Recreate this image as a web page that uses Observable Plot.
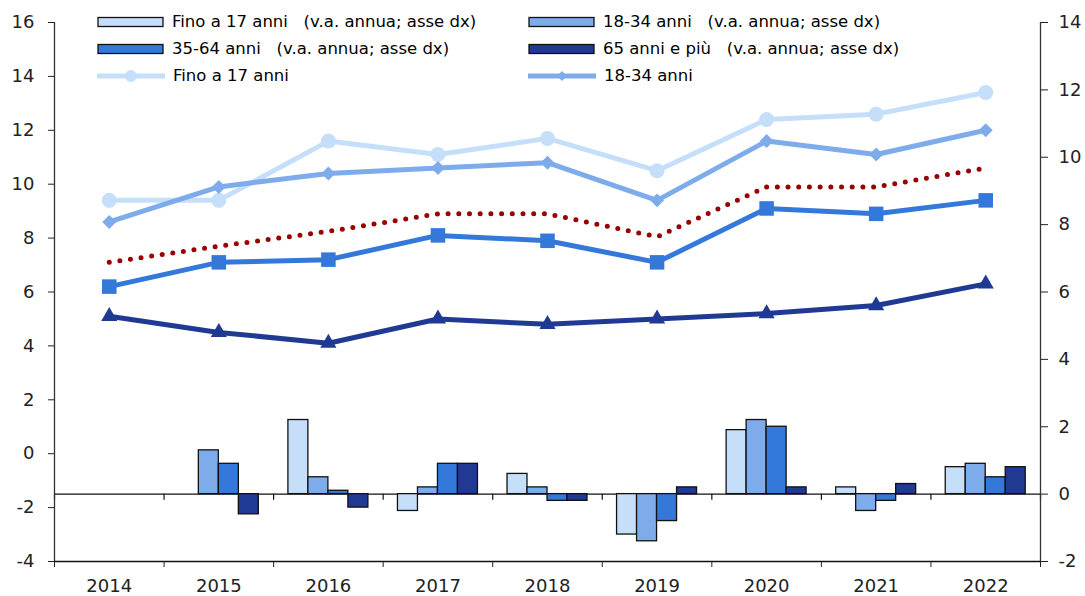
<!DOCTYPE html>
<html><head><meta charset="utf-8">
<script src="https://cdn.jsdelivr.net/npm/d3@7"></script>
<script src="https://cdn.jsdelivr.net/npm/@observablehq/plot@0.6"></script>
<style>
body{margin:0;background:#fff;font-family:"DejaVu Sans",sans-serif;}
#wrap{position:relative;width:1085px;height:596px;}
#legend{position:absolute;left:0;top:0;width:1085px;height:100px;pointer-events:none;font-size:16.5px;color:#000;}
.item{position:absolute;display:flex;align-items:center;white-space:pre;height:22px;line-height:22px;}
.item svg{margin-right:8px;display:block;}
</style></head><body>
<div id="wrap"><div id="chart"></div><div id="legend"></div></div>
<script>
// ---- data ----
const years = [2014, 2015, 2016, 2017, 2018, 2019, 2020, 2021, 2022];
const seriesNames = ["Fino a 17 anni", "18-34 anni", "35-64 anni", "65 anni e più"];
const colors = ["#c5dffb", "#7eaceb", "#3479d9", "#203a93"];
const totalColor = "#9b0000";
// levels (left axis)
const lvlFino17 = [9.4, 9.4, 11.6, 11.1, 11.7, 10.5, 12.4, 12.6, 13.4];
const lvl18_34 = [8.6, 9.9, 10.4, 10.6, 10.8, 9.4, 11.6, 11.1, 12.0];
const lvl35_64 = [6.2, 7.1, 7.2, 8.1, 7.9, 7.1, 9.1, 8.9, 9.4];
const lvl65 = [5.1, 4.5, 4.1, 5.0, 4.8, 5.0, 5.2, 5.5, 6.3];
const lvlTotale = [7.1, 7.7, 8.25, 8.9, 8.9, 8.05, 9.9, 9.9, 10.6];
// annual changes (right axis)
const vaFino17 = [null, 0, 2.2, -0.5, 0.6, -1.2, 1.9, 0.2, 0.8];
const va18_34 = [null, 1.3, 0.5, 0.2, 0.2, -1.4, 2.2, -0.5, 0.9];
const va35_64 = [null, 0.9, 0.1, 0.9, -0.2, -0.8, 2.0, -0.2, 0.5];
const va65 = [null, -0.6, -0.4, 0.9, -0.2, 0.2, 0.2, 0.3, 0.8];
const leftTicks = [-4, -2, 0, 2, 4, 6, 8, 10, 12, 14, 16];
const rightTicks = [-2, 0, 2, 4, 6, 8, 10, 12, 14];
const legendBarLabel = "   (v.a. annua; asse dx)";

// ---- scales mapping right axis onto left axis ----
const L0 = -4, L1 = 16, R0 = -2, R1 = 14;
const toLeft = r => L0 + (r - R0) * (L1 - L0) / (R1 - R0);
const toRight = l => R0 + (l - L0) * (R1 - R0) / (L1 - L0);

const groupW = 0.73, barW = groupW / 4;
const boundaries = years.map(y => y - 0.5).concat([years[years.length - 1] + 0.5]);

const vaSeries = [vaFino17, va18_34, va35_64, va65];
const lvlSeries = [lvlFino17, lvl18_34, lvl35_64, lvl65];
const symbols = ["circle", "diamond2", "square", "triangle"];
const radii = [7.5, 6.3, 8.2, 6];

const marks = [];
// axis frame lines
marks.push(Plot.ruleY([toLeft(0)], {stroke: "#111", strokeWidth: 1.3}));
marks.push(Plot.ruleX(boundaries, {x: d => d, y1: toLeft(0), y2: toLeft(0), insetBottom: -6, stroke: "#111", strokeWidth: 1.2}));

vaSeries.forEach((vals, i) => {
  const data = years.map((y, k) => ({year: y, v: vals[k]})).filter(d => d.v !== null);
  marks.push(Plot.rectY(data, {
    x1: d => d.year - groupW / 2 + i * barW,
    x2: d => d.year - groupW / 2 + (i + 1) * barW,
    y1: toLeft(0),
    y2: d => toLeft(d.v),
    fill: colors[i], stroke: "#111", strokeWidth: 1.3
  }));
});

lvlSeries.forEach((vals, i) => {
  const data = years.map((y, k) => ({year: y, v: vals[k]}));
  marks.push(Plot.line(data, {x: "year", y: "v", stroke: colors[i], strokeWidth: 5, strokeLinejoin: "round"}));
  marks.push(Plot.dot(data, {x: "year", y: "v", fill: colors[i], symbol: symbols[i], r: radii[i]}));
});
{
  const data = years.map((y, k) => ({year: y, v: lvlTotale[k]}));
  marks.push(Plot.line(data, {x: "year", y: "v", stroke: totalColor, strokeWidth: 5, strokeDasharray: "0,10.7", strokeLinecap: "round"}));
}

marks.push(Plot.ruleX([boundaries[0], boundaries[boundaries.length - 1]], {stroke: "#333", strokeWidth: 1.3}));
marks.push(Plot.ruleY([L0], {stroke: "#111", strokeWidth: 1.3}));
marks.push(Plot.axisY({anchor: "left", ticks: leftTicks, tickSize: 6, tickPadding: 14, label: null, tickFormat: d => String(d)}));
marks.push(Plot.axisY({anchor: "right", ticks: rightTicks.map(toLeft), tickSize: 7, tickPadding: 11, label: null, tickFormat: d => String(Math.round(toRight(d)))}));
marks.push(Plot.axisX({anchor: "bottom", ticks: boundaries, tickSize: 6, tickFormat: () => "", label: null}));
marks.push(Plot.axisX({anchor: "bottom", ticks: years, tickSize: 0, tickPadding: 18, tickFormat: d => String(d), label: null}));

const chart = Plot.plot({
  width: 1085, height: 596,
  marginLeft: 54, marginRight: 45, marginTop: 22, marginBottom: 35,
  x: {type: "linear", domain: [boundaries[0], boundaries[boundaries.length - 1]]},
  y: {domain: [L0, L1]},
  style: {fontFamily: "DejaVu Sans, sans-serif", fontSize: "18px", color: "#222", background: "white", overflow: "visible"},
  marks
});
document.getElementById("chart").appendChild(chart);

// ---- legend ----
const legend = document.getElementById("legend");
function barSwatch(c) {
  return `<svg width="67" height="12"><rect x="1" y="1.5" width="65" height="9" fill="${c}" stroke="#111" stroke-width="1.3"/></svg>`;
}
function lineSwatch(c, sym) {
  let m = sym === "circle" ? `<circle cx="34" cy="8" r="6" fill="${c}"/>`
        : `<path d="M34,3 L39,8 L34,13 L29,8Z" fill="${c}"/>`;
  return `<svg width="68" height="16"><line x1="0" y1="8" x2="68" y2="8" stroke="${c}" stroke-width="5" stroke-linecap="round"/>${m}</svg>`;
}
const cols = [97, 528];
const rowsY = [22, 49, 76];
const items = [
  {col: 0, row: 0, sw: barSwatch(colors[0]), text: seriesNames[0] + legendBarLabel},
  {col: 1, row: 0, sw: barSwatch(colors[1]), text: seriesNames[1] + legendBarLabel},
  {col: 0, row: 1, sw: barSwatch(colors[2]), text: seriesNames[2] + legendBarLabel},
  {col: 1, row: 1, sw: barSwatch(colors[3]), text: seriesNames[3] + legendBarLabel},
  {col: 0, row: 2, sw: lineSwatch(colors[0], "circle"), text: seriesNames[0]},
  {col: 1, row: 2, sw: lineSwatch(colors[1], "diamond"), text: seriesNames[1]}
];
items.forEach(it => {
  const d = document.createElement("div");
  d.className = "item";
  d.style.left = cols[it.col] + "px";
  d.style.top = (rowsY[it.row] - 11) + "px";
  d.innerHTML = it.sw + `<span>${it.text}</span>`;
  legend.appendChild(d);
});
</script>
</body></html>
